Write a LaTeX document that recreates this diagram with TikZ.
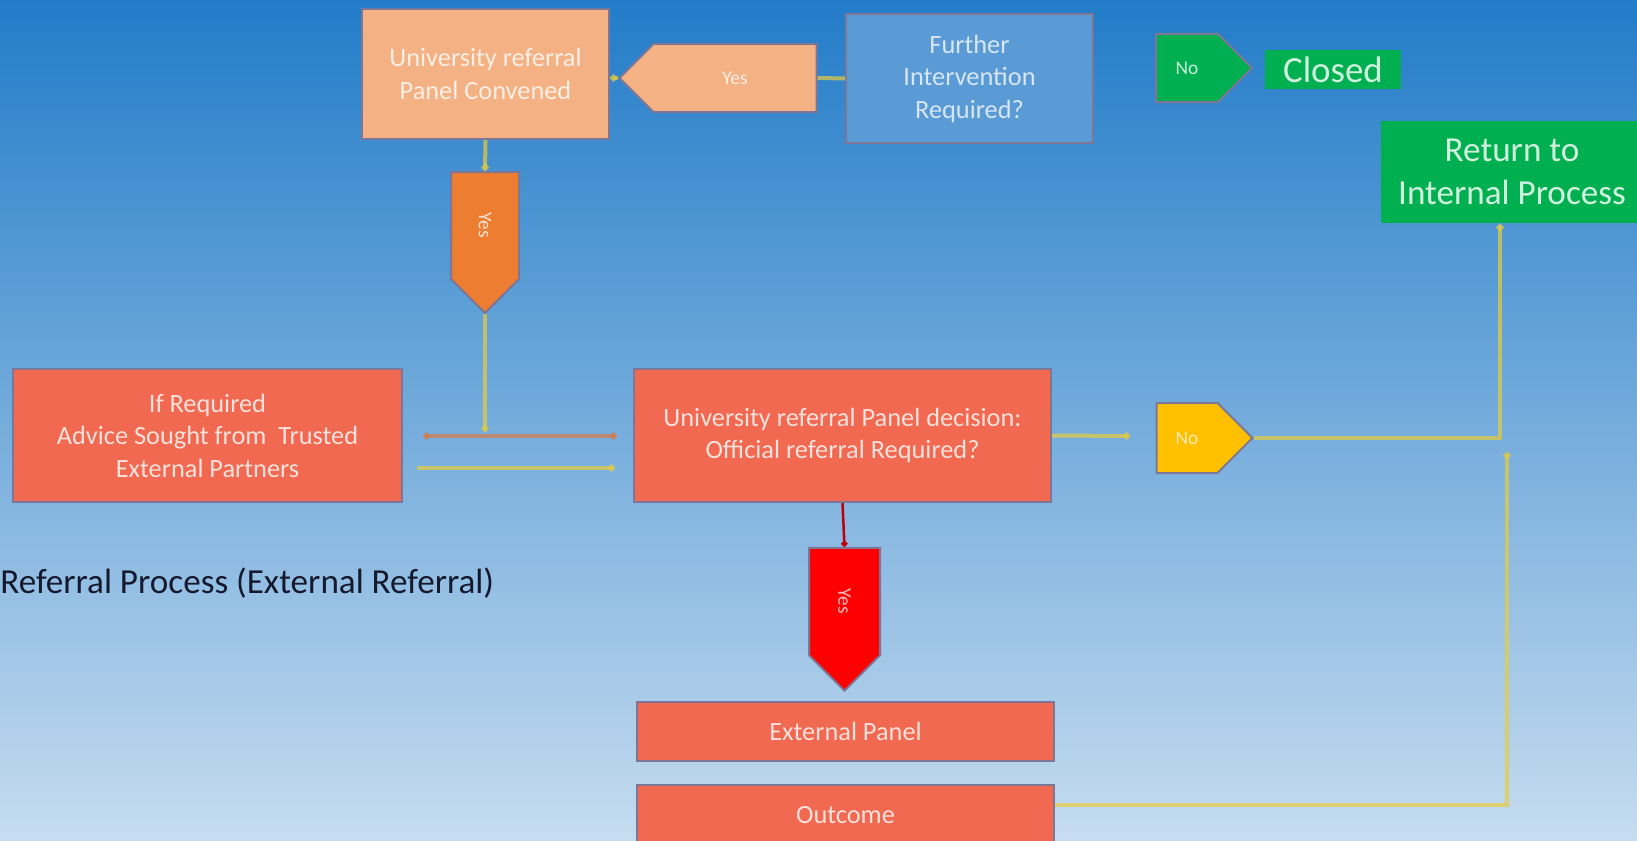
\documentclass[tikz,border=0pt]{standalone}
\usepackage{fontspec}
\setmainfont{Carlito}
\usetikzlibrary{shapes.symbols,arrows.meta}

\definecolor{bgtop}{RGB}{34,124,200}
\definecolor{bgmid}{RGB}{118,170,222}
\definecolor{bgbot}{RGB}{198,220,240}
\definecolor{peach}{RGB}{244,177,131}
\definecolor{orng}{RGB}{237,125,49}
\definecolor{coral}{RGB}{241,105,80}
\definecolor{skyb}{RGB}{91,155,213}
\definecolor{grn}{RGB}{0,176,80}
\definecolor{ambr}{RGB}{255,192,0}
\definecolor{boxline}{RGB}{125,118,150}
\definecolor{linky}{RGB}{232,205,60}
\definecolor{linkbr}{RGB}{215,120,70}
\definecolor{linkr}{RGB}{190,0,10}
\definecolor{titleink}{RGB}{20,25,45}

\begin{document}
\begin{tikzpicture}[x=0.2mm, y=-0.2mm,
		box/.style = {rectangle, draw = boxline, line width = 0.4mm,
			inner sep = 0pt, align = center,
			font = \fontsize{15}{18.5}\selectfont},
		tag/.style = {signal, signal from = nowhere, draw = boxline,
			line width = 0.4mm, inner sep = 0pt,
			font = \fontsize{11}{13}\selectfont},
		link/.style = {draw = linky, opacity = 0.7, line width = 0.8mm,
			-{Circle[length = 1.4mm]}},
		linkb/.style = {draw = linkbr, opacity = 0.7, line width = 0.8mm,
			{Circle[length = 1.4mm]}-{Circle[length = 1.4mm]}},
		linkr/.style = {draw = linkr, line width = 0.5mm,
			-{Circle[length = 1.2mm]}}]

	\useasboundingbox (0,0) rectangle (1637,841);
	\clip (0,0) rectangle (1637,841);
	\shade [top color = bgtop, middle color = bgmid, bottom color = bgbot]
		(0,0) rectangle (1637,841);

	% top row
	\node [box, fill = peach, text = white!80!peach,
		minimum width = 49.4mm, minimum height = 26mm] (conv) at (485.5,74)
		{University referral\\Panel Convened};
	\node [tag, signal to = west, fill = peach, text = white!80!peach,
		minimum width = 39.4mm, minimum height = 13.6mm] (yesL) at (735,78) {Yes};
	\node [box, fill = skyb, text = white!75!skyb,
		minimum width = 49.4mm, minimum height = 25.8mm] (further) at (969.5,78.5)
		{Further\\Intervention\\Required?};
	\node [tag, signal to = east, fill = grn, text = white!80!grn,
		minimum width = 19.2mm, minimum height = 13.6mm] (noG) at (1187,68) {No};
	\node [box, draw = none, fill = grn, text = white!82!grn,
		font = \fontsize{21}{25}\selectfont,
		minimum width = 27.2mm, minimum height = 7.8mm] (closed) at (1333,69.5) {Closed};
	\node [box, draw = none, fill = grn, text = white!82!grn,
		font = \fontsize{20}{24.5}\selectfont,
		minimum width = 52.4mm, minimum height = 20.4mm] (ret) at (1512,172)
		{Return to\\Internal Process};

	% middle row
	\node [tag, signal to = east, rotate = -90, fill = orng, text = white!80!orng,
		minimum width = 28.2mm, minimum height = 13.6mm] (yesO) at (485,225.5) {Yes};
	\node [box, fill = coral, text = white!80!coral,
		minimum width = 77.8mm, minimum height = 26.6mm] (advice) at (207.5,435.5)
		{If Required\\Advice Sought from~ Trusted\\External Partners};
	\node [box, fill = coral, text = white!80!coral,
		minimum width = 83.4mm, minimum height = 26.6mm] (decision) at (842.5,435.5)
		{University referral Panel decision:\\Official referral Required?};
	\node [tag, signal to = east, fill = ambr, text = white!70!ambr,
		minimum width = 19.2mm, minimum height = 14mm] (noY) at (1187,438) {No};

	% bottom row
	\node [tag, signal to = east, rotate = -90, fill = red, text = white!75!red,
		minimum width = 28.6mm, minimum height = 14.2mm] (yesR) at (844.5,601.5) {Yes};
	\node [box, fill = coral, text = white!80!coral,
		minimum width = 83.4mm, minimum height = 11.8mm] (extp) at (845.5,731.5)
		{External Panel};
	\node [box, fill = coral, text = white!80!coral,
		minimum width = 83.4mm, minimum height = 12mm] (outc) at (845.5,815)
		{Outcome};

	\node [anchor = west, inner sep = 0pt, text = titleink,
		font = \fontsize{20}{24}\selectfont] (title) at (0,583)
		{Referral Process (External Referral)};

	% free ends of the connectors
	\coordinate (j1) at (485,432);
	\coordinate (b1) at (423,436);
	\coordinate (b2) at (617,436);
	\coordinate (y1) at (417,468);
	\coordinate (y2) at (615,468);
	\coordinate (n1) at (1130,436);
	\coordinate (rx) at (1500,0);
	\coordinate (oy) at (0,805);
	\coordinate (o1) at (1507,452);

	\draw [link, -] (further.west) -- (yesL.east);
	\draw [link] (yesL.west) -- (yesL.west -| conv.east);
	\draw [link] (conv.south) -- (yesO.west);
	\draw [link] (yesO.east) -- (j1);
	\draw [linkb] (b1) -- (b2);
	\draw [link] (y1) -- (y2);
	\draw [link] (decision.east) -- (n1);
	\draw [link] (noY.east) -| (ret.south -| rx);
	\draw [linkr] (decision.south) -- (yesR.west);
	\draw [link] (outc.east |- oy) -| (o1);
\end{tikzpicture}
\end{document}
